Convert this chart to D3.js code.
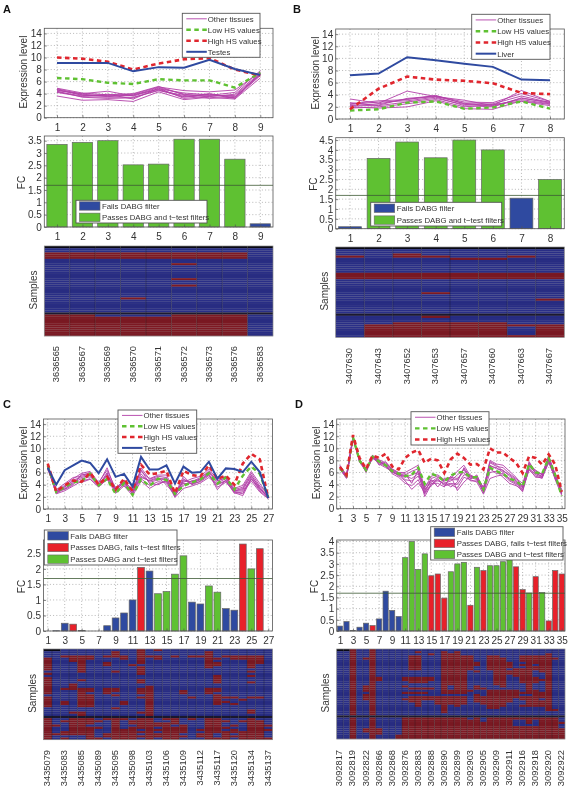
<!DOCTYPE html>
<html><head><meta charset="utf-8">
<script src="https://cdn.jsdelivr.net/npm/d3@7/dist/d3.min.js"></script>
<style>html,body{margin:0;padding:0;background:#fff}svg{display:block;filter:blur(0.35px)}text{font-family:"Liberation Sans",Arial,sans-serif}</style>
</head><body><div id="c"></div>
<script>
// ---------- Panel A ----------
const aOther=[[4.8,3.9,3.6,3.7,5.0,3.9,3.5,3.9,7.5],[4.4,3.4,3.2,3.3,4.6,3.4,3.9,3.2,7.0],[3.6,2.9,3.0,2.7,4.3,3.0,3.4,3.1,6.6],[4.7,3.7,3.7,3.9,5.1,4.5,4.3,4.6,7.6],[4.5,4.0,4.4,3.6,4.8,4.1,3.8,3.5,7.2],[4.2,3.5,3.4,3.4,4.5,3.7,3.2,3.4,7.1],[4.9,4.1,3.8,4.0,5.2,3.8,3.7,4.2,7.8],[4.3,3.6,3.9,3.1,4.9,3.2,3.6,3.7,7.3],[4.6,3.8,3.5,3.8,4.7,3.5,4.0,3.3,7.4]];
const aLow=[6.6,6.4,5.8,5.6,6.4,6.2,6.2,5,7.5];
const aHigh=[10,9.8,9.3,8,9,9.7,9.9,8,7];
const aTop=[9.1,9.1,9.1,7.7,8.4,8.3,9.6,8.1,7.1];
const aFC=[3.35,3.43,3.5,2.52,2.55,3.56,3.56,2.75,0.13];
const aStatus="GGGGGGGGF";
const aIds=["3636565","3636567","3636569","3636570","3636571","3636572","3636573","3636576","3636583"];
const aHeat=[[],[],[],[0,1,2,3,4,5,6,7],[0,1,2,3,4,5,6,7],[0,1,2,3,4,5,6,7],[],[],[5],[],[],[],[],[],[],[5],[],[],[5],[],[],[],[],[],[3],[],[],[],[],[],[],[],[0,1,5,6,7],[0,1,2,3,4,5,6,7],[0,1,2,3,4,5,6,7],[0,1,2,3,4,5,6,7],[0,1,2,3,4,5,6,7],[0,1,2,3,4,5,6,7],[0,1,2,3,4,5,6,7],[0,1,2,3,4,5,6,7],[0,1,2,3,4,5,6,7],[0,1,2,3,4,5,6,7]];
// ---------- Panel B ----------
const bOther=[[3.3,2.6,4.6,3.7,3.1,2.2,4.7,2.9],[2.5,3.0,3.2,3.9,2.5,2.5,3.8,2.7],[2.1,2.3,3.4,3.8,2.8,2.7,4.2,2.9],[2.0,1.8,2.0,3.0,1.7,1.6,3.0,2.4],[2.4,2.8,3.0,3.6,2.2,2.0,3.5,2.6],[2.7,2.2,2.8,3.4,2.4,2.3,3.2,2.5],[1.8,2.0,2.5,3.2,2.0,2.4,2.9,2.2],[2.2,2.5,3.3,3.7,2.6,2.1,3.4,2.8]];
const bLow=[1.4,1.6,2.7,2.9,1.7,1.9,2.9,1.7];
const bHigh=[1.6,5,7,6.5,6.3,5.9,4.3,4.1];
const bTop=[7.2,7.5,10.2,9.7,9.1,8.6,6.5,6.4];
const bFC=[0.1,3.57,4.4,3.6,4.5,4.0,1.55,2.5];
const bStatus="FGGGGGFG";
const bIds=["3407630","3407643","3407652","3407653","3407657","3407660","3407663","3407667"];
const bHeat=[[],[],[],[2],[0,2,3,6],[4,5],[],[],[],[],[],[],[0,1,2,3,4,5,6,7],[0,1,2,3,4,5,6,7],[0,1,2,3,4,5,6,7],[],[],[],[],[],[],[3],[],[],[7],[],[],[],[],[],[],[],[3],[],[],[2,3,4,5],[1,2,3,4,5,6,7],[1,2,3,4,5,7],[1,2,3,4,5,7],[1,2,3,4,5,7],[1,2,3,4,5,7],[1,2,3,4,5,6,7]];
// ---------- Panel C ----------
const cOther=[
[7.0,2.6,3.3,4.2,5.6,6.0,4.2,6.8,3.0,4.6,2.4,6.8,4.9,5.4,5.2,2.0,4.8,4.4,5.0,6.3,4.6,5.2,3.0,3.4,5.6,3.4,2.0],
[6.6,2.8,3.6,4.8,5.2,5.6,3.9,6.0,2.8,4.2,2.6,5.8,4.4,4.8,4.9,2.4,5.4,4.0,4.6,5.8,3.2,4.8,2.7,2.2,5.0,3.0,1.8],
[7.2,3.0,3.9,5.0,5.9,6.2,4.4,6.4,3.4,4.8,3.0,6.2,5.0,5.6,5.6,2.8,4.4,5.0,5.4,6.6,4.9,5.4,3.4,3.9,6.2,4.2,2.2],
[6.9,2.5,3.0,3.8,4.6,5.0,3.6,5.0,2.6,3.8,2.2,4.6,3.4,4.2,4.6,1.9,3.4,3.8,4.3,5.2,4.0,4.6,2.6,2.8,4.6,2.8,1.7],
[7.3,3.2,4.2,5.2,5.4,5.8,4.0,5.6,3.2,4.4,2.8,5.4,4.6,5.0,5.1,2.6,3.9,4.7,4.8,6.0,4.3,5.0,3.0,3.2,5.4,3.6,1.9],
[6.7,2.7,3.4,4.4,5.0,5.3,4.1,5.4,2.9,4.0,2.5,5.0,3.9,4.5,4.4,2.2,4.2,4.2,4.5,5.5,4.1,4.7,2.8,2.5,5.2,3.2,2.1],
[7.1,2.9,3.7,4.6,4.4,4.9,3.7,5.8,3.1,4.5,3.2,6.5,4.2,4.0,4.7,2.5,4.6,4.5,5.2,6.1,4.7,5.1,3.2,3.6,5.9,3.8,2.3],
[6.8,3.1,3.2,4.0,5.8,5.5,3.8,4.8,3.6,4.3,2.9,5.2,4.7,5.2,4.0,2.3,5.0,4.1,4.9,5.6,3.6,4.4,2.9,3.0,4.9,3.4,1.8]];
const cLow=[7.2,2.8,3.6,4.4,4.6,5.8,3.9,5,2.5,4.3,2.3,4.9,3.8,5,4.8,2.5,3.8,4.4,4.9,5.9,4.2,5.2,3.2,5.5,7,5.8,1.9];
const cHigh=[7.5,2.9,3.9,4.7,4.5,6,4,5.3,3.2,5,3,7.3,5.7,5.9,6.3,2.6,6.3,5.6,5.4,7.2,5,5.5,4,7.5,9.1,8.2,1.8];
const cTop=[6.8,4,6.4,7.2,8,7.6,5.9,8.2,5.3,5.8,3.7,8.6,6.5,6.5,7.2,4.2,7,6,6.1,7.8,5,6.7,6.6,6.1,7.8,6.1,1.8];
const cFC=[0,0.01,0.25,0.22,0.02,0,0,0.17,0.42,0.58,1.0,2.05,1.93,1.2,1.27,1.83,2.42,0.93,0.87,1.45,1.25,0.72,0.67,2.8,2.0,2.65,0];
const cStatus="FFFRFFFFFFFRFGGGGFFGGFFRGRF";
const cIds=["3435079","3435083","3435085","3435089","3435095","3435098","3435103","3435106","3435109","3435112","3435117","3435120","3435134","3435137"];
const cHeat=[[11,13],[8,11,19],[8,11,19],[2,3,4,5,7,8,9,11,12,13,15,17,18,19,21,22,23,24,25],[0,3,4,5,9,11,13,19,20,22,23,24,25],[0,3,4,11,19,24,25],[0,4,7,11,19,20,24,25],[0,4,7,10,19,20,24],[0,4,11,19,24],[0,4,11],[4,8,11,24],[0,11],[20,24],[0,20],[0,4,11,20],[0,11,20,24],[0,3],[0,3,12],[0,2,3,4,5,7,8,11,12,19,20],[0,4,5,7,8,11,12,16,19,20],[0,4,7,11,12,16,19],[4,5,8,12,20],[0,4,5,11,12,17,20,21,22,24,25],[0,4,5,12,20,23],[0,2,4,5,9,12,20,21],[0,2,4,5,9,12,20,22],[0,4,5,12],[8,12],[12,24],[3,4,11,12,24],[4,12],[],[0,3,4,5,7,8,9,11,12,14,15,17,19,20,24],[0,2,3,4,5,6,8,10,11,12,15,19,20,21,23,24,25],[0,3,4,5,8,10,11,12,13,14,15,19,20,24,25],[0,1,3,4,8,11,12,13,14,16,19,20,22,24,25,26],[0,3,4,5,6,8,10,11,12,14,15,16,19,20,21,24,25],[0,3,4,5,8,9,10,12,13,14,15,16,18,19,20,22,24,25,26],[0,2,3,4,5,8,9,10,11,12,14,15,16,19,20,21,22,23,24,25],[0,1,2,3,4,5,7,8,9,10,12,13,14,15,18,19,21,23,24,25],[0,5,7,8,9,10,11,12,13,14,15,16,18,19,21,22,23,24,25],[0,2,5,6,8,9,10,12,14,15,19,20,21,23,24,25,26]];
// ---------- Panel D ----------
const dOther=[
[7.2,5.4,11.8,8.2,6.2,8.7,8.1,7.6,6.6,6.0,6.0,6.6,7.2,3.4,5.4,5.6,4.8,5.0,6.2,7.2,5.4,5.0,3.0,8.0,7.4,7.2,6.2,5.2,3.6,7.6,6.2,5.6,8.8,5.2,3.0],
[6.8,5.2,11.6,8.0,6.0,8.5,7.6,7.0,6.0,5.6,5.2,5.6,6.0,2.0,4.0,5.0,3.8,4.0,3.4,5.2,4.8,4.4,2.4,5.0,5.4,5.6,4.6,4.0,2.8,6.8,5.6,5.2,7.8,5.0,2.6],
[6.6,5.0,11.9,7.8,6.4,8.8,7.8,7.4,6.4,5.8,4.8,4.6,5.4,3.0,4.6,4.6,4.2,4.6,5.6,6.4,5.0,5.4,3.4,7.6,7.0,6.8,5.8,5.0,4.2,7.4,5.8,5.4,8.2,5.6,2.4],
[7.0,5.6,11.7,8.1,6.6,8.6,7.4,6.8,6.2,5.4,5.6,6.2,6.6,2.6,5.0,5.4,4.4,3.6,4.4,6.8,5.2,4.8,2.8,7.2,6.6,6.4,5.4,4.6,3.4,7.0,6.0,5.8,8.4,5.4,2.8],
[6.9,5.3,12.0,7.9,6.3,8.4,8.0,7.2,5.8,5.2,4.2,3.8,4.8,2.4,4.2,4.2,3.6,5.4,3.0,4.4,5.4,5.2,2.6,6.0,6.2,5.2,4.2,3.8,3.2,6.4,5.4,5.0,8.0,4.8,2.2],
[6.5,5.1,11.5,8.3,6.1,8.9,7.2,7.8,6.5,5.9,5.4,5.0,5.8,3.6,4.8,3.6,5.0,5.2,5.0,6.0,4.6,4.6,3.2,7.8,7.2,6.2,5.6,4.8,3.8,7.2,6.4,5.6,8.6,5.8,2.6],
[7.1,5.5,11.8,8.0,6.5,8.3,7.7,7.3,6.3,5.5,4.6,3.2,4.2,2.8,3.8,4.8,4.0,4.2,4.0,5.6,5.6,5.0,3.6,6.6,5.8,5.8,5.0,4.4,3.0,6.6,5.2,5.2,7.6,5.2,3.2],
[6.7,5.2,11.6,7.7,6.2,8.6,7.9,7.1,6.1,5.7,5.8,4.2,6.4,3.2,4.4,5.2,4.6,4.8,4.8,6.6,4.9,5.6,2.9,7.0,6.8,6.0,4.8,4.2,3.5,7.8,5.9,5.3,8.1,5.0,2.9]];
const dLow=[6.7,5.5,11.8,8,6.4,8.6,7.8,7.2,6.2,5.8,5.4,5.6,6.8,4.1,5.8,5.4,4.5,5.5,6,6.1,5.2,5.2,3.2,6.8,6.2,5.8,5,4.6,3.7,7.4,6,5.8,8.4,5.6,2.1];
const dHigh=[6.9,5.6,12.2,8.4,6.6,8.8,8.4,9.1,7,6.5,8.4,9.3,9.7,7.6,8.3,8,5.9,8.2,9.1,8.4,7.3,7.4,6.5,10,9.3,9.3,8.4,7.6,5.9,8.7,8.4,7.3,9,7.3,2.8];
const dFC=[0.22,0.42,0.02,0.17,0.35,0.24,0.54,1.78,0.92,0.65,3.28,4.0,2.75,3.45,2.47,2.55,1.47,2.65,3.0,3.07,1.15,2.85,2.7,2.92,2.92,3.1,3.2,2.87,1.85,1.7,2.43,1.72,0.45,2.7,2.55];
const dStatus="FFFFFRFFFFGGGGRRRGGGRGRGGGGRRGRGRRR";
const dIds=["3092817","3092819","3092822","3092866","3092868","3092876","3092883","3092888","3092890","3092899","3092903","3092905","3092909","3092911","3092916","3092918","3092920","3092922"];
const dHeat=[
[],[12,16,18],[14,16,17,18,32],
[11,12,16,17,18,19,20,23,24,28,29,30,31,32],[4,11,12,16,17,18,19,20,23,24,25,28,29,30,31,32,33],[11,12,16,17,18,19,20,23,24,25,28,29,30,31,32],[11,12,16,17,18,19,20,21,23,24,25,26,29,30,31,32],[11,12,16,17,18,19,20,21,23,24,25,26,28,29,31,32],[11,12,16,17,18,19,20,23,24,25,26,29,30,31,32],[11,12,16,17,18,19,20,23,24,25,27,28,29,30,31,32],
[16,17,18,19,21,24,25,26,27,28,29,31,32],[16,17,18,19,24,25,26,27,28,29,32],[16,17,18,19,24,25,27,28,29,32],[6,10,11,12,13,14,16,17,18,19,24,25,28,29,30,32],[6,10,11,12,13,14,16,17,18,19,24,25,28,29,30,31,32],[11,12,13,16,17,18,19,24,25,28,29,30,32],[16,17,18,19,24,25,29,32],[4,10,16,18,19,21,25,29,32],
[4,11,12,13,14,16,18,19,21,22,29,32],[4,16,17,18,19,20,23,24,25,26,27,29,30,32],[10,11,12,13,16,17,18,19,23,24,25,26,27,28,29,30,31,32],[4,21,23,24,25,26,27,30,31,32],[4,11,12,13,14,15,16,17,18,19,21,22,23,24,25,26,27,28,29,30,31,32],[4,10,11,12,13,14,15,16,17,18,19,21,22,23,24,25,26,28,29,30,32],[11,12,15,16,17,18,19,21,22,23,24,25,26,29,30,31,32],[12,15,16,17,18,19,22,23,24,25,29,30,31,32],[12,16,18,23,24,25,28,29,30,31,32],[16,23,24,32],[16,32,33],[16],[],[],
[10,11,12,13,14,15,16,17,18,19,21,23,24,25,26,27,28,29,30,31,32,33],[10,11,12,13,14,15,16,17,18,19,20,21,23,24,25,26,29,31,32,33],[10,11,12,13,14,15,16,17,18,19,20,21,22,23,24,25,26,29,31,32,33,34],[10,11,12,13,14,15,16,17,18,19,20,21,22,23,24,25,26,31,32,33],[10,11,12,13,14,15,16,17,18,19,20,21,22,23,24,25,26,27,28,29,30,31,32,33],[4,6,10,11,12,13,14,15,16,17,18,19,20,21,22,23,24,25,26,27,28,29,30,31,32,33,34],[4,6,10,11,12,13,14,15,16,17,18,19,20,21,22,23,24,25,26,27,28,29,30,31,32,33,34],[6,10,11,12,13,14,15,16,17,18,19,20,21,22,23,24,25,26,27,28,29,30,31,32,33,34],[9,10,11,12,13,14,15,16,17,18,19,20,21,22,23,24,25,26,27,28,29,30,31,32,33,34],[9,10,11,12,13,14,15,16,17,18,19,20,21,22,23,24,25,26,27,28,29,30,31,32,33,34]];
const dHeatAllRed=[2,5];

const statusColor={F:"#2f4aa0",R:"#e8202a",G:"#5fc132"};
const statusLabel={F:"Fails DABG filter",R:"Passes DABG, fails t\u2212test filters",G:"Passes DABG and t\u2212test filters"};
const exprTicks=[0,2,4,6,8,10,12,14];

const panels=[
 {letter:"A",lx:3,ly:13,other:aOther,low:aLow,high:aHigh,top:aTop,topName:"Testes",fc:aFC,status:aStatus,ids:aIds,heat:aHeat,n:9,step:1,idStep:1,
  L:44.3,R:273,lineT:28.3,lineB:117.7,barT:136,barB:227,barMax:3.69,barTicks:[0,.5,1,1.5,2,2.5,3,3.5],heatT:246,heatB:336,idT:346,
  lineLeg:[182.3,13.3,77.7,44],barLeg:[76,200.3,131,22.7],barLegKeys:"FG",exprX:24,fcX:22,sampX:34},
 {letter:"B",lx:293,ly:13,other:bOther,low:bLow,high:bHigh,top:bTop,topName:"Liver",fc:bFC,status:bStatus,ids:bIds,heat:bHeat,n:8,step:1,idStep:1,
  L:335.7,R:564.3,lineT:29,lineB:119,barT:137.7,barB:228.7,barMax:4.62,barTicks:[0,.5,1,1.5,2,2.5,3,3.5,4,4.5],heatT:247,heatB:337.3,idT:348,
  lineLeg:[471.7,14.3,78.3,45],barLeg:[370.7,202.3,131,23.7],barLegKeys:"FG",exprX:316,fcX:314,sampX:325},
 {letter:"C",lx:3,ly:408,other:cOther,low:cLow,high:cHigh,top:cTop,topName:"Testes",fc:cFC,status:cStatus,ids:cIds,heat:cHeat,n:27,step:2,idStep:2,
  L:43.5,R:272.5,lineT:419,lineB:509,barT:540,barB:631,barMax:2.93,barTicks:[0,.5,1,1.5,2,2.5],heatT:649,heatB:739.7,idT:750,
  lineLeg:[118,410,78.7,43.3],barLeg:[44.3,530,132.7,35],barLegKeys:"FRG",exprX:24,fcX:22,sampX:33},
 {letter:"D",lx:295,ly:408,other:dOther,low:dLow,high:dHigh,top:null,fc:dFC,status:dStatus,ids:dIds,heat:dHeat,allRed:dHeatAllRed,n:35,step:2,idStep:2,
  L:336.7,R:565,lineT:419,lineB:508.7,barT:540,barB:631,barMax:4.07,barTicks:[0,.5,1,1.5,2,2.5,3,3.5,4],heatT:649,heatB:739,idT:750,
  lineLeg:[411,411.7,78,33.3],barLeg:[430.7,526.7,132.3,33.3],barLegKeys:"FRG",exprX:317,fcX:315,sampX:326}
];
const AXC="#555", TXT="#333";
const svg=d3.select("#c").append("svg").attr("width",571).attr("height",789);

function styleAxis(g){
  g.select(".domain").remove();
  g.selectAll("line").attr("stroke",AXC).attr("stroke-width",.7);
  g.selectAll("text").attr("font-size",10).attr("fill",TXT).attr("font-family",'"Liberation Sans",Arial,sans-serif');
}
function frame(x,y,w,h,p,yTicks,xScale,yScale){
  const xt=d3.range(1,p.n+1,p.step);
  const grid=svg.append("g");
  grid.selectAll("line.v").data(xt).join("line").attr("x1",d=>xScale(d)).attr("x2",d=>xScale(d)).attr("y1",y).attr("y2",y+h);
  grid.selectAll("line.h").data(yTicks).join("line").attr("class","h").attr("x1",x).attr("x2",x+w).attr("y1",d=>yScale(d)).attr("y2",d=>yScale(d));
  grid.selectAll("line").attr("stroke","#999").attr("stroke-width",.7).attr("stroke-dasharray","1,2.2");
}
function axes(x,y,w,h,p,yTicks,xScale,yScale){
  const xt=d3.range(1,p.n+1,p.step);
  svg.append("g").attr("transform",`translate(0,${y+h})`).call(d3.axisBottom(xScale).tickValues(xt).tickSize(-2.5).tickPadding(6)).call(styleAxis);
  svg.append("g").attr("transform",`translate(${x},0)`).call(d3.axisLeft(yScale).tickValues(yTicks).tickSize(-2.5).tickPadding(2.5).tickFormat(d=>String(d))).call(styleAxis);
  svg.append("rect").attr("x",x).attr("y",y).attr("width",w).attr("height",h).attr("fill","none").attr("stroke",AXC).attr("stroke-width",.8);
}
function vlabel(txt,x,y){
  svg.append("text").attr("transform",`translate(${x},${y}) rotate(-90)`).attr("text-anchor","middle").attr("dominant-baseline","middle").attr("font-size",10).attr("fill",TXT).text(txt);
}
function legendBox(r){
  return svg.append("rect").attr("x",r[0]).attr("y",r[1]).attr("width",r[2]).attr("height",r[3]).attr("fill","#fff").attr("stroke","#555").attr("stroke-width",.9);
}
const LS={
 other:{stroke:"#b23fa8",w:.9,dash:null},
 low:{stroke:"#5fc132",w:2.4,dash:"4.5,3.5"},
 high:{stroke:"#e0262e",w:2.6,dash:"4.5,3.5"},
 top:{stroke:"#2f4aa0",w:2,dash:null}
};
panels.forEach(p=>{
  svg.append("text").attr("x",p.lx).attr("y",p.ly).attr("font-size",11).attr("font-weight","bold").attr("fill","#111").text(p.letter);
  const W=p.R-p.L;
  // expression lines
  const x=d3.scaleLinear().domain([.5,p.n+.5]).range([p.L,p.R]);
  const y=d3.scaleLinear().domain([0,14.85]).range([p.lineB,p.lineT]);
  frame(p.L,p.lineT,W,p.lineB-p.lineT,p,exprTicks,x,y);
  const line=d3.line().x((d,i)=>x(i+1)).y(d=>y(d));
  const draw=(vals,s)=>svg.append("path").attr("d",line(vals)).attr("fill","none").attr("stroke",s.stroke).attr("stroke-width",s.w).attr("stroke-dasharray",s.dash);
  p.other.forEach(v=>draw(v,LS.other));
  draw(p.low,LS.low); draw(p.high,LS.high);
  if(p.top) draw(p.top,LS.top);
  axes(p.L,p.lineT,W,p.lineB-p.lineT,p,exprTicks,x,y);
  vlabel("Expression level",p.exprX,(p.lineT+p.lineB)/2-1);
  // line legend
  const ll=p.lineLeg; legendBox(ll);
  const ents=[["Other tissues",LS.other],["Low HS values",LS.low],["High HS values",LS.high]];
  if(p.top) ents.push([p.topName,LS.top]);
  const rowH=ll[3]/ents.length;
  ents.forEach((e,i)=>{
    const yy=ll[1]+rowH*(i+.5);
    svg.append("line").attr("x1",ll[0]+4).attr("x2",ll[0]+24.5).attr("y1",yy).attr("y2",yy).attr("stroke",e[1].stroke).attr("stroke-width",e[1].w).attr("stroke-dasharray",e[1].dash);
    svg.append("text").attr("x",ll[0]+25.5).attr("y",yy+2.9).attr("font-size",7.8).attr("fill",TXT).text(e[0]);
  });
  // FC bars
  const yb=d3.scaleLinear().domain([0,p.barMax]).range([p.barB,p.barT]);
  const xb=d3.scaleBand().domain(d3.range(1,p.n+1)).range([p.L,p.R]).paddingInner(.2).paddingOuter(.1);
  frame(p.L,p.barT,W,p.barB-p.barT,p,p.barTicks,x,yb);
  svg.append("g").selectAll("rect").data(p.fc).join("rect")
    .attr("x",(d,i)=>xb(i+1)).attr("width",xb.bandwidth())
    .attr("y",d=>yb(d)).attr("height",d=>p.barB-yb(d))
    .attr("fill",(d,i)=>statusColor[p.status[i]]).attr("stroke","#666").attr("stroke-width",.7);
  svg.append("line").attr("x1",p.L).attr("x2",p.R).attr("y1",yb(1.69)).attr("y2",yb(1.69)).attr("stroke","#3d5a35").attr("stroke-width",.8);
  axes(p.L,p.barT,W,p.barB-p.barT,p,p.barTicks,x,yb);
  vlabel("FC",p.fcX,(p.barT+p.barB)/2+1);
  const bl=p.barLeg; legendBox(bl);
  const keys=p.barLegKeys.split(""), bh=bl[3]/keys.length;
  keys.forEach((k,i)=>{
    const yy=bl[1]+bh*(i+.5);
    svg.append("rect").attr("x",bl[0]+3.5).attr("y",yy-4.2).attr("width",20.5).attr("height",8.4).attr("fill",statusColor[k]).attr("stroke","#666").attr("stroke-width",.6);
    svg.append("text").attr("x",bl[0]+26).attr("y",yy+2.9).attr("font-size",7.8).attr("fill",TXT).text(statusLabel[k]);
  });
  // heat map
  const rows=d3.range(p.heat.length), cols=d3.range(p.n);
  const hx=d3.scaleBand().domain(cols).range([p.L,p.R]);
  const hy=d3.scaleBand().domain(rows).range([p.heatT,p.heatB]);
  const cells=rows.flatMap(r=>cols.map(c=>({r,c,red:p.heat[r].includes(c)||(p.allRed||[]).includes(c)})));
  const sepRow=31;
  const hc=d=>{
    if(d.r===sepRow) return "#1c1a30";
    if(d.r===0&&(p.n<10||d.c<2)) return "#0a0a14";
    return d.red?"#7f1a24":"#2a2f88";
  };
  svg.append("g").selectAll("rect").data(cells).join("rect")
    .attr("x",d=>hx(d.c)).attr("y",d=>hy(d.r)).attr("width",hx.bandwidth()).attr("height",hy.bandwidth()+.1).attr("fill",hc);
  svg.append("g").selectAll("line").data(rows.slice(1)).join("line").attr("x1",p.L).attr("x2",p.R).attr("y1",d=>hy(d)).attr("y2",d=>hy(d)).attr("stroke","#000").attr("stroke-opacity",.2).attr("stroke-width",.5);
  svg.append("g").selectAll("line").data(cols.slice(1)).join("line").attr("x1",d=>hx(d)).attr("x2",d=>hx(d)).attr("y1",p.heatT).attr("y2",p.heatB).attr("stroke","#111").attr("stroke-opacity",.45).attr("stroke-width",.7);
  svg.append("rect").attr("x",p.L).attr("y",p.heatT).attr("width",W).attr("height",p.heatB-p.heatT).attr("fill","none").attr("stroke","#888").attr("stroke-width",.7);
  vlabel("Samples",p.sampX,(p.heatT+p.heatB)/2-1);
  p.ids.forEach((id,i)=>{
    const cx=hx(i*p.idStep)+hx.bandwidth()/2;
    svg.append("text").attr("transform",`translate(${cx},${p.idT}) rotate(-90)`).attr("text-anchor","end").attr("dominant-baseline","middle").attr("font-size",9.3).attr("fill",TXT).text(id);
  });
});
</script></body></html>
